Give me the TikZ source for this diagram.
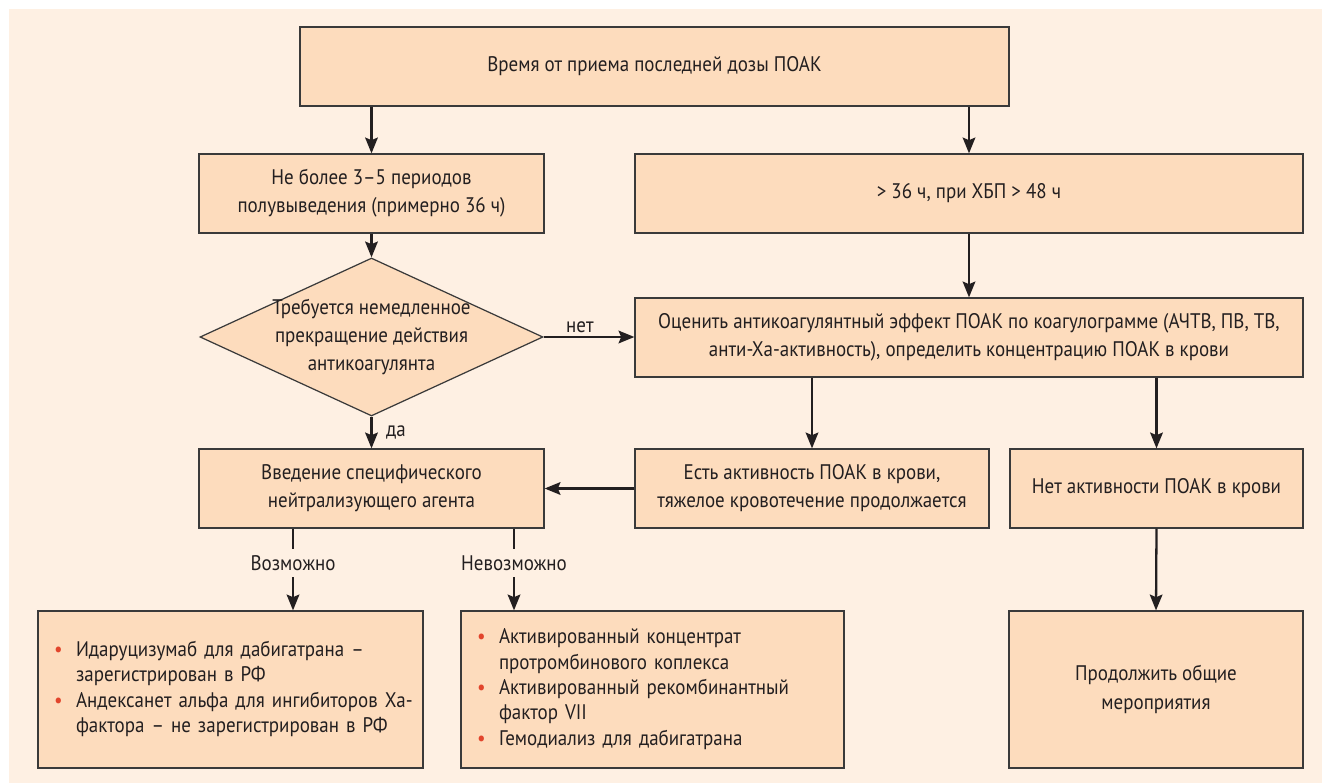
\documentclass[tikz,border=0pt]{standalone}
\usepackage{fontspec}
\setmainfont[FakeStretch=0.9]{PT Sans}
\usetikzlibrary{arrows.meta,calc,shapes.geometric,positioning}
\definecolor{bgc}{HTML}{FEF0E3}
\definecolor{bxc}{HTML}{FDDCBD}
\definecolor{edc}{HTML}{3A3A3A}
\definecolor{txc}{HTML}{231F20}
\definecolor{blt}{HTML}{E2452C}
\tikzset{
  bx/.style={rectangle,draw=edc,fill=bxc,line width=.7pt,align=center,inner sep=2pt,
    minimum height=1.58cm,font=\fontsize{12}{16}\selectfont,text=txc},
  lst/.style={bx,align=left,inner xsep=0.32cm,minimum height=3.14cm,
    font=\fontsize{12}{14.4}\selectfont},
  dec/.style={diamond,draw=edc,fill=bxc,line width=.7pt,inner sep=0pt},
  arr/.style={-{Stealth[length=9pt,width=7.2pt,inset=1.5pt]},line width=1.3pt,draw=txc},
  lb/.style={font=\fontsize{12}{13}\selectfont,text=txc,inner sep=2pt},
  lbf/.style={lb,fill=bgc,inner ysep=3.5pt},
}
\newcommand{\bul}{\textcolor{blt}{\textbullet}}

\begin{document}
\begin{tikzpicture}
\useasboundingbox (0,0) rectangle (26.44,15.66);
\fill[bgc] (0.18,0) rectangle (26.44,15.48);
% upper part
\node[bx,minimum width=14.18cm] (top) at (13.09,14.33) {Время от приема последней дозы ПОАК};
\node[bx,minimum width=6.9cm] (nb) at (7.43,11.79) {Не более 3--5 периодов\\полувыведения (примерно 36 ч)};
\node[bx,minimum width=13.36cm] (gt) at (19.38,11.79) {> 36 ч, при ХБП > 48 ч};
\node[dec,minimum width=6.86cm,minimum height=3.16cm] (dia) at (7.43,8.92) {};
\node[lb,align=center,font=\fontsize{12}{16}\selectfont] (diat) at (dia) {Требуется немедленное\\прекращение действия\\антикоагулянта};
\node[bx,minimum width=13.36cm] (est) at (19.38,8.91) {Оценить антикоагулянтный эффект ПОАК по коагулограмме (АЧТВ, ПВ, ТВ,\\анти-Ха-активность), определить концентрацию ПОАК в крови};
% middle row
\node[bx,minimum width=6.9cm] (intro) at (7.43,5.89) {Введение специфического\\нейтрализующего агента};
\node[bx,minimum width=7.08cm] (act) at (16.24,5.89) {Есть активность ПОАК в крови,\\тяжелое кровотечение продолжается};
\node[bx,minimum width=5.86cm] (noact) at (23.13,5.89) {Нет активности ПОАК в крови};
% bottom row
\node[lst,text width=7.06cm] (bl) at (4.61,1.87) {%
  \begin{tabular}{@{}p{0.44cm}@{}l@{}}
  \bul & Идаруцизумаб для дабигатрана --\\
       & зарегистрирован в РФ\\
  \bul & Андексанет альфа для ингибиторов Ха-\\
       & фактора -- не зарегистрирован в РФ
  \end{tabular}};
\node[lst,text width=7.02cm] (bm) at (13.05,1.87) {%
  \begin{tabular}{@{}p{0.44cm}@{}l@{}}
  \bul & Активированный концентрат\\
       & протромбинового коплекса\\
  \bul & Активированный рекомбинантный\\
       & фактор VII\\
  \bul & Гемодиализ для дабигатрана
  \end{tabular}};
\node[bx,minimum width=5.88cm,minimum height=3.14cm] (br) at (23.12,1.87) {Продолжить общие\\мероприятия};
% connectors
\draw[arr] (top.south -| nb.north) -- (nb.north);
\draw[arr] (top.south -| gt.north) -- (gt.north);
\draw[arr] (nb.south) -- (dia.north);
\draw[arr] (gt.south) -- (est.north);
\draw[arr] (dia.east) -- node[lb,above,pos=.4] {нет} (dia.east -| est.west);
\draw[arr] (dia.south) -- node[lb,right=0.2cm] {да} (dia.south |- intro.north);
\draw[arr] (est.south -| act.north) -- (act.north);
\draw[arr] (est.south -| noact.north) -- (noact.north);
\draw[arr] (act.west) -- (intro.east);
\draw[arr] (noact.south) -- (br.north);
\draw[arr] ([xshift=-1.57cm]intro.south) -- node[lbf,pos=.42] {Возможно}
  ([xshift=-1.57cm]intro.south |- bl.north);
\draw[arr] ([xshift=2.85cm]intro.south) -- node[lbf,pos=.42] {Невозможно}
  ([xshift=2.85cm]intro.south |- bm.north);
\end{tikzpicture}
\end{document}
